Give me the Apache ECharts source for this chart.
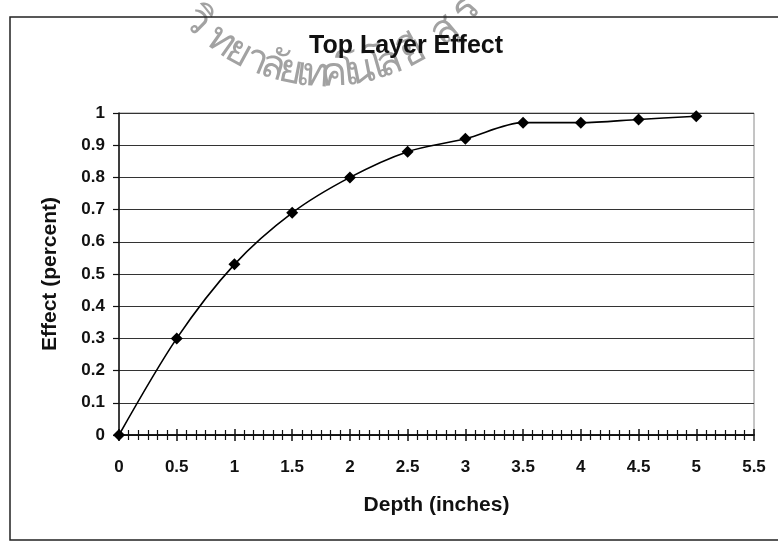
<!DOCTYPE html>
<html>
<head>
<meta charset="utf-8">
<title>Top Layer Effect</title>
<script src="https://cdn.jsdelivr.net/npm/echarts@6/dist/echarts.min.js"></script>
<style>
  html, body { margin: 0; padding: 0; background: #fff; }
  #chart { width: 778px; height: 543px; }
</style>
</head>
<body>
<div id="chart"></div>
<script>
// chart data
var depthValues = [0, 0.5, 1, 1.5, 2, 2.5, 3, 3.5, 4, 4.5, 5];
var effectValues = [0, 0.30, 0.53, 0.69, 0.80, 0.88, 0.92, 0.97, 0.97, 0.98, 0.99];
var titleText = 'Top Layer Effect';
var xAxisName = 'Depth (inches)';
var yAxisName = 'Effect (percent)';
// faded stamp text on the scan
var stampChars = ['วิ', 'ท', 'ย', 'า', 'ลั', 'ย', 'เ', 'ท', 'ค', 'โ', 'น', 'โ', 'ล', 'ยี', 'สุ', 'ร'];
var stampAngles = [-45, -35, -28.6, -22.4, -16.7, -11.2, -7.1, -3.4, 2.5, 6.6, 11, 16, 20.5, 28.2, 40.6, 50];

var fontFamily = '"Liberation Sans", Arial, sans-serif';

// build the stamp glyphs along an arc
function buildStamp(){
    var cx = 326, cy = -108, r = 183;
    var items = [];
    for (var i = 0; i < stampChars.length; i++){
        var a = stampAngles[i] * Math.PI / 180;
        items.push({
            type: 'text',
            x: cx + r * Math.sin(a),
            y: cy + r * Math.cos(a),
            rotation: a,
            silent: true,
            z: -1,
            style: {
                text: stampChars[i],
                fill: '#a2a2a2',
                font: '40px sans-serif',
                textAlign: 'center',
                textVerticalAlign: 'middle'
            }
        });
    }
    return items;
}

function buildPoints(){
    var pts = [];
    for (var i = 0; i < depthValues.length; i++){
        pts.push([depthValues[i], effectValues[i]]);
    }
    return pts;
}

var chart = echarts.init(document.getElementById('chart'));

var baseX = {
    type: 'value',
    min: 0,
    max: 5.5,
    interval: 0.5,
    position: 'bottom',
    axisLine: { show: true, lineStyle: { color: '#111', width: 1.5 } },
    splitLine: { show: false }
};

var option = {
    backgroundColor: '#fff',
    animation: false,
    title: {
        text: titleText,
        left: 401,
        top: 29,
        textAlign: 'center',
        z: 10,
        textStyle: { fontFamily: fontFamily, fontWeight: 'bold', fontSize: 25, color: '#111' }
    },
    grid: {
        left: 119,
        right: 24,
        top: 113,
        bottom: 108,
        show: true,
        borderColor: '#8a8a8a',
        borderWidth: 1
    },
    xAxis: [
        echarts.util.merge({
            name: xAxisName,
            nameLocation: 'middle',
            nameGap: 60,
            nameTextStyle: { fontFamily: fontFamily, fontWeight: 'bold', fontSize: 21, color: '#111' },
            axisTick: { show: true, inside: false, length: 6, lineStyle: { color: '#111', width: 1.5 } },
            minorTick: { show: true, splitNumber: 6, length: 5, lineStyle: { color: '#111', width: 1.2 } },
            axisLabel: {
                margin: 24,
                fontFamily: fontFamily,
                fontWeight: 'bold',
                fontSize: 17,
                color: '#111'
            }
        }, baseX, true),
        echarts.util.merge({
            axisTick: { show: true, inside: true, length: 6, lineStyle: { color: '#111', width: 1.5 } },
            minorTick: { show: true, splitNumber: 6, length: 5, lineStyle: { color: '#111', width: 1.2 } },
            axisLabel: { show: false }
        }, baseX, true)
    ],
    yAxis: {
        type: 'value',
        min: 0,
        max: 1,
        interval: 0.1,
        name: yAxisName,
        nameLocation: 'middle',
        nameGap: 58,
        nameTextStyle: { fontFamily: fontFamily, fontWeight: 'bold', fontSize: 21, color: '#111' },
        axisLine: { show: true, lineStyle: { color: '#111', width: 1.5 } },
        axisTick: { show: true, inside: false, length: 6, lineStyle: { color: '#111', width: 1.2 } },
        axisLabel: {
            margin: 14,
            fontFamily: fontFamily,
            fontWeight: 'bold',
            fontSize: 17,
            color: '#111'
        },
        splitLine: { show: true, lineStyle: { color: '#333', width: 1.2 } }
    },
    series: [
        {
            type: 'line',
            xAxisIndex: 0,
            data: buildPoints(),
            smooth: 0.3,
            symbol: 'diamond',
            symbolSize: 12,
            itemStyle: { color: '#000' },
            lineStyle: { color: '#000', width: 1.6 },
            z: 5
        }
    ],
    graphic: [
        {
            // outer chart frame
            type: 'rect',
            silent: true,
            shape: { x: 10, y: 17, width: 800, height: 523 },
            style: { fill: 'none', stroke: '#222', lineWidth: 1.5 }
        }
    ].concat(buildStamp())
};

chart.setOption(option);
</script>
</body>
</html>
